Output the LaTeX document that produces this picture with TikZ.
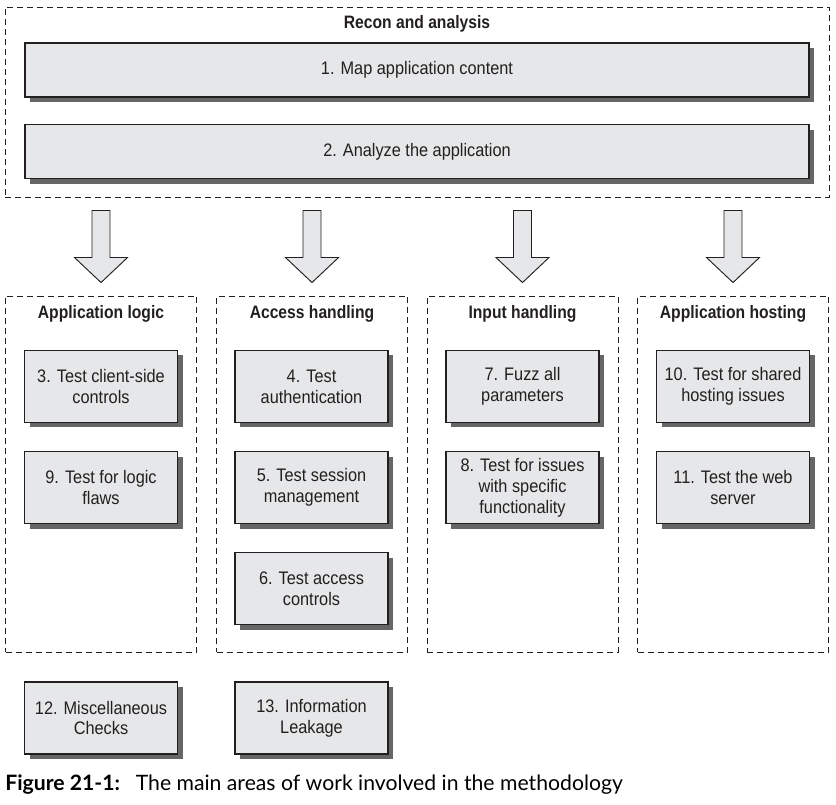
\documentclass[tikz,border=0pt]{standalone}
\usepackage{fontspec}
\newfontfamily\condfont[FakeStretch=0.9,BoldFeatures={FakeStretch=0.87}]{Liberation Sans}
\newfontfamily\capfont{Lato}
\usepackage{xcolor}
\usepackage{tikz}
\usetikzlibrary{positioning,shadows,calc}
\definecolor{boxgray}{HTML}{E6E7E8}
\definecolor{shadowgray}{HTML}{666666}
\definecolor{inkgray}{HTML}{231F20}

\begin{document}
\begin{tikzpicture}[
  x=0.75pt,y=-0.75pt,
  node distance=21pt,
  task/.style ={rectangle,draw=inkgray,line width=0.8pt,fill=boxgray,
                minimum width=114.75pt,minimum height=54pt,align=center,
                text=inkgray,font=\condfont\fontsize{13.6}{15.7}\selectfont,
                drop shadow={shadow xshift=3.75pt,shadow yshift=-3.75pt,
                             fill=shadowgray,opacity=1}},
  wtask/.style={task,minimum width=588pt,minimum height=40.5pt},
  area/.style ={rectangle,draw=inkgray,line width=0.7pt,
                dash pattern=on 4.5pt off 3pt,
                minimum width=143.25pt,minimum height=267pt},
  head/.style ={text=inkgray,font=\condfont\bfseries\fontsize{13.5}{15}\selectfont},
  blockarrow/.style={draw=inkgray,line width=0.7pt,fill=boxgray},
]
\useasboundingbox (0,0) rectangle (836,805);
% recon block
\node[area,minimum width=618pt,minimum height=142.5pt] (recon) at (417,102) {};
\node[head] (recon-t) at (417,23.5) {Recon and analysis};
\node[wtask] (t1) at (417,70) {1. Map application content};
\node[wtask,below=20pt of t1] (t2) {2. Analyze the application};
% four areas
\node[area] (logic)   at (101,474) {};
\node[area] (access)  at (312,474) {};
\node[area] (input)   at (522.5,474) {};
\node[area] (hosting) at (733,474) {};
\node[head] (logic-t)   at (101,313.5)   {Application logic};
\node[head] (access-t)  at (312,313.5)   {Access handling};
\node[head] (input-t)   at (522.5,313.5) {Input handling};
\node[head] (hosting-t) at (733,313.5)   {Application hosting};
% block arrows
\foreach \c in {logic,access,input,hosting}
  \draw[blockarrow,shift={(\c.north)}] (-9,-85) -- (9,-85) -- (9,-38) -- (26.5,-38)
    -- (0,-13) -- (-26.5,-38) -- (-9,-38) -- cycle;
% tasks
\node[task] (t3) at (101,386.5) {3. Test client-side\\controls};
\node[task,below=of t3] (t9) {9. Test for logic\\flaws};
\node[task] (t4) at (311.5,386.5) {4. Test\\authentication};
\node[task,below=of t4] (t5) {5. Test session\\management};
\node[task,below=of t5] (t6) {6. Test access\\controls};
\node[task] (t7) at (522.5,386.5) {7. Fuzz all\\parameters};
\node[task,below=of t7] (t8) {8. Test for issues\\with specific\\functionality};
\node[task] (t10) at (733,386.5) {10. Test for shared\\hosting issues};
\node[task,below=of t10] (t11) {11. Test the web\\server};
\node[task] (t12) at (101,718) {12. Miscellaneous\\Checks};
\node[task] (t13) at (311.5,718) {13. Information\\Leakage};
% caption
\node[anchor=base west,inner sep=0pt,font=\capfont\fontsize{15.9}{19}\selectfont]
  (caption) at (5,790) {\textbf{Figure 21-1:}\hspace{0.4em} The main areas of work involved in the methodology};
\end{tikzpicture}
\end{document}
